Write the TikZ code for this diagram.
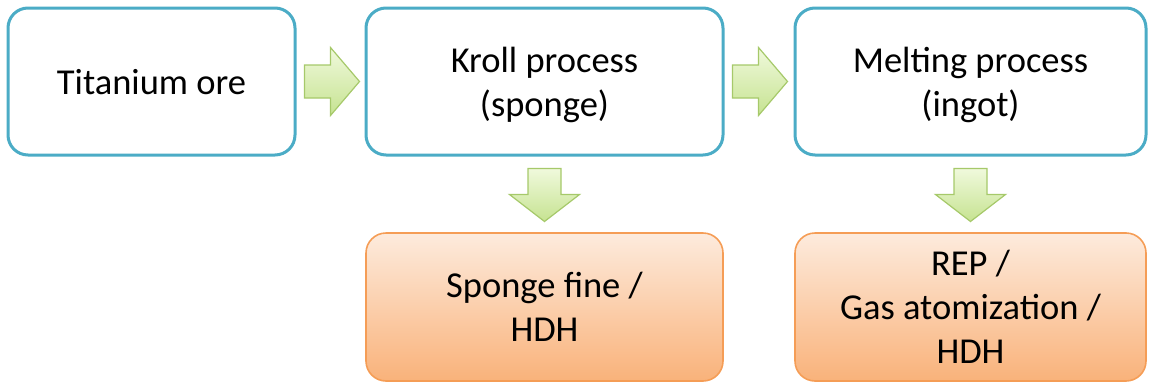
\documentclass[tikz,border=0pt]{standalone}
\usepackage{fontspec}
\setmainfont{Carlito}
\usetikzlibrary{calc}
\definecolor{stageblue}{HTML}{4BACC6}
\definecolor{prodedge}{HTML}{F59D56}
\definecolor{prodtop}{HTML}{FDEBDD}
\definecolor{prodbot}{HTML}{F9B27A}
\definecolor{arrowedge}{HTML}{A6C96A}
\definecolor{arrowtop}{HTML}{F0F9DC}
\definecolor{arrowbot}{HTML}{C6E391}
\tikzset{
  stage/.style={draw=stageblue, line width=3pt, rounded corners=20pt, fill=white,
    minimum width=#1, minimum height=147pt, align=center,
    font=\fontsize{36.5}{44}\selectfont, inner sep=0pt, text depth=0pt},
  product/.style={draw=prodedge, line width=1.6pt, rounded corners=20pt,
    top color=prodtop, bottom color=prodbot,
    minimum width=#1, minimum height=148pt, align=center,
    font=\fontsize{36.5}{44}\selectfont, inner sep=0pt, text depth=-5pt},
  blockarrow/.style={draw=arrowedge, line width=1.2pt, line join=miter,
    top color=arrowtop, bottom color=arrowbot},
}
\begin{document}
\begin{tikzpicture}[x=1pt, y=-1pt]
  \useasboundingbox (0,0) rectangle (1149,386);
  % process stages
  \node[stage=287pt]  (ore)   at (151.5,81.5) {Titanium ore};
  \node[stage=357pt]  (kroll) at (544.5,81.5) {Kroll process\\(sponge)};
  \node[stage=351pt]  (melt)  at (970.5,81.5) {Melting process\\(ingot)};
  % powder products
  \node[product=357pt] (fine) at (544.5,307) {Sponge fine /\\HDH};
  \node[product=351pt] (rep)  at (970.5,307) {REP /\\Gas atomization /\\HDH};
  % horizontal block arrows between stages
  \foreach \a in {ore,kroll}{
    \draw[blockarrow] ($(\a.east)+(8,-16.5)$) -- ($(\a.east)+(34,-16.5)$)
      -- ($(\a.east)+(34,-34)$) -- ($(\a.east)+(63,0)$) -- ($(\a.east)+(34,34)$)
      -- ($(\a.east)+(34,16.5)$) -- ($(\a.east)+(8,16.5)$) -- cycle;
  }
  % vertical block arrows from stages to products
  \foreach \a in {kroll,melt}{
    \draw[blockarrow] ($(\a.south)+(-16.5,12)$) -- ($(\a.south)+(16.5,12)$)
      -- ($(\a.south)+(16.5,38)$) -- ($(\a.south)+(35,38)$) -- ($(\a.south)+(0,65)$)
      -- ($(\a.south)+(-35,38)$) -- ($(\a.south)+(-16.5,38)$) -- cycle;
  }
\end{tikzpicture}
\end{document}
